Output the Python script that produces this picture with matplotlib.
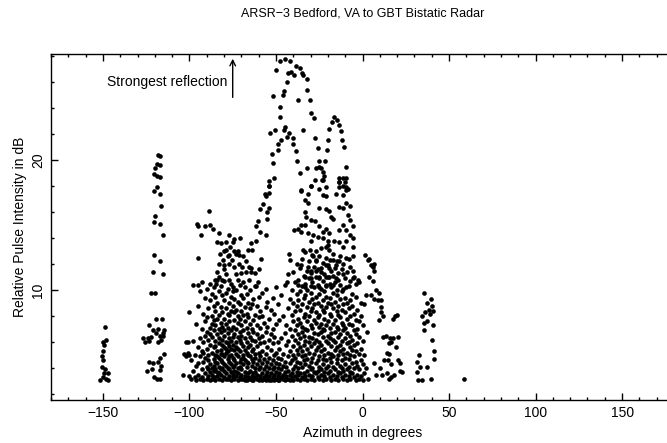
import numpy as np
import matplotlib
matplotlib.use("Agg")
import matplotlib.pyplot as plt
from matplotlib.ticker import MultipleLocator

plt.rcParams['font.family'] = ['Liberation Sans', 'DejaVu Sans']

###
# DATA (azimuth in degrees, relative pulse intensity in dB)
###

# isolated clusters west of the main lobe
west = [(-148.7, 7.2), (-150.1, 6.0), (-148.2, 6.2), (-149.1, 5.8), (-150.1, 5.3),
        (-150.5, 4.9), (-149.7, 4.6), (-150.5, 4.1), (-148.6, 3.9), (-149.1, 3.6),
        (-147.2, 3.6), (-150.1, 3.3), (-148.2, 3.2), (-151.6, 3.1), (-147.2, 3.1),
        (-118.3, 20.4), (-117.3, 20.3), (-118.7, 19.7), (-117.3, 19.6), (-119.7, 19.4),
        (-120.2, 18.9), (-118.7, 18.8), (-117.3, 18.7), (-120.2, 17.6), (-118.9, 17.9),
        (-116.8, 17.4), (-116.4, 16.5), (-119.9, 15.7), (-120.2, 15.2), (-116.8, 15.1),
        (-115.4, 14.2), (-120.2, 12.7), (-116.8, 12.2), (-121.2, 11.4), (-115.0, 11.2),
        (-122.1, 9.8), (-119.8, 9.75), (-119.3, 7.8), (-115.8, 7.8), (-123.1, 7.3),
        (-121.2, 6.9), (-118.3, 7.0), (-114.8, 6.9), (-126.6, 6.3), (-124.1, 6.3),
        (-122.1, 6.4), (-119.3, 6.7), (-117.3, 6.5), (-115.4, 6.7), (-125.4, 6.0),
        (-123.1, 6.1), (-118.1, 6.0), (-116.6, 6.2), (-115.0, 6.5), (-123.1, 4.5),
        (-121.2, 4.4), (-118.3, 4.5), (-117.3, 4.8), (-114.5, 5.1), (-124.7, 3.8),
        (-121.8, 3.9), (-117.3, 3.85), (-116.4, 4.2), (-120.2, 3.3), (-118.9, 3.2),
        (-117.3, 3.2)]

# the two peaks of the main lobe (above ~18 dB)
peak = [(-44.5, 27.8), (-47.4, 27.6), (-41.8, 27.6), (-49.9, 26.9), (-38.7, 27.2),
        (-36.4, 27.1), (-43.2, 26.7), (-41.2, 26.8), (-39.7, 26.5), (-34.9, 26.7),
        (-34.1, 26.5), (-43.8, 26.0), (-32.2, 26.2), (-45.1, 25.3), (-51.6, 24.9),
        (-45.7, 25.0), (-32.2, 25.4), (-37.4, 24.6), (-30.2, 24.6), (-47.6, 24.1),
        (-29.7, 23.6), (-47.4, 23.3), (-28.3, 23.2), (-16.2, 23.3), (-14.9, 23.1),
        (-17.5, 22.9), (-13.7, 22.7), (-44.9, 22.5), (-50.5, 22.3), (-53.4, 22.1),
        (-45.3, 22.3), (-42.2, 22.1), (-43.8, 21.8), (-40.3, 21.7), (-34.5, 22.3),
        (-19.1, 22.4), (-12.3, 22.2), (-47.0, 21.5), (-49.0, 21.2), (-40.3, 21.2),
        (-27.2, 21.7), (-19.7, 21.5), (-11.7, 21.5), (-49.1, 20.8), (-38.3, 20.7),
        (-25.8, 20.9), (-20.6, 20.8), (-10.6, 21.0), (-52.2, 20.5), (-37.7, 19.9),
        (-24.9, 19.9), (-21.4, 19.9), (-51.8, 19.8), (-26.8, 19.4), (-23.9, 19.4),
        (-25.3, 19.5), (-32.2, 19.4), (-9.8, 19.5), (-36.0, 19.0), (-22.9, 19.1),
        (-22.5, 18.8), (-13.3, 18.6), (-11.4, 18.6), (-9.4, 18.6), (-50.9, 18.6),
        (-53.8, 18.4), (-27.7, 18.5), (-23.5, 18.5), (-13.7, 18.3), (-10.4, 18.3),
        (-53.8, 18.0), (-29.7, 18.0), (-21.0, 17.9), (-13.3, 17.9), (-9.4, 17.9),
        (-8.5, 17.8), (-35.4, 17.7)]

# middle band, western half (10 - 18 dB)
mid_w = [(-54.2, 18.0), (-56.6, 17.4), (-53.8, 17.5), (-56.0, 17.2), (-88.8, 16.1),
         (-57.6, 16.6), (-59.5, 16.2), (-54.2, 16.3), (-55.3, 16.0), (-95.2, 14.9),
         (-90.8, 14.9), (-88.4, 15.0), (-86.5, 14.7), (-93.2, 14.2), (-82.7, 14.4),
         (-60.5, 15.3), (-55.3, 15.5), (-61.4, 14.9), (-59.5, 14.5), (-56.0, 14.2),
         (-84.2, 13.7), (-81.7, 13.6), (-77.3, 14.2), (-78.8, 13.7), (-74.9, 13.7),
         (-74.0, 13.9), (-70.7, 14.0), (-64.3, 13.6), (-61.8, 13.8), (-76.5, 13.3),
         (-78.8, 13.1), (-80.2, 13.0), (-74.0, 13.0), (-72.1, 13.0), (-66.3, 13.1),
         (-63.8, 13.1), (-95.0, 12.5), (-82.3, 12.8), (-80.8, 12.3), (-77.8, 12.6),
         (-76.9, 12.7), (-75.3, 12.3), (-73.0, 12.8), (-71.5, 12.7), (-69.2, 12.6),
         (-67.3, 12.2), (-58.6, 12.4), (-83.1, 12.0), (-79.8, 11.9), (-76.9, 12.0),
         (-74.0, 11.8), (-71.5, 12.0), (-69.5, 11.8), (-65.7, 11.8), (-64.3, 11.7),
         (-80.3, 11.6), (-84.2, 11.4), (-82.7, 11.0), (-78.8, 11.2), (-73.0, 11.2),
         (-70.1, 11.3), (-67.3, 11.4), (-64.3, 11.4), (-62.4, 11.3), (-59.9, 11.6),
         (-95.2, 10.4), (-85.5, 10.8), (-84.6, 10.5), (-81.1, 10.8), (-76.9, 10.8),
         (-72.1, 10.8), (-68.8, 10.6), (-65.3, 10.8), (-60.5, 10.6), (-74.9, 10.2),
         (-61.4, 10.3), (-95.8, 15.1)]

# middle band, eastern half (10 - 18 dB)
mid_e = [(-35.4, 17.6), (-31.6, 17.4), (-29.7, 18.0), (-25.2, 17.8), (-22.9, 18.5),
         (-22.9, 17.3), (-21.0, 17.2), (-33.5, 16.9), (-31.6, 16.7), (-24.9, 16.3),
         (-21.0, 16.2), (-33.5, 16.0), (-32.5, 15.6), (-29.7, 15.4), (-27.7, 15.3),
         (-35.4, 15.0), (-39.3, 14.6), (-37.4, 14.7), (-33.5, 15.0), (-31.6, 14.4),
         (-28.7, 14.2), (-24.9, 14.9), (-22.9, 14.5), (-21.0, 14.7), (-35.4, 14.5),
         (-29.7, 13.8), (-25.8, 14.1), (-22.9, 14.0), (-20.1, 13.8), (-42.2, 12.8),
         (-41.8, 12.3), (-34.5, 13.1), (-30.6, 13.1), (-26.8, 13.0), (-23.9, 13.2),
         (-21.0, 13.3), (-28.7, 12.6), (-26.8, 12.2), (-35.4, 11.9), (-31.6, 11.8),
         (-29.7, 11.5), (-26.8, 11.5), (-23.9, 11.7), (-21.0, 11.9), (-33.5, 11.0),
         (-29.7, 10.9), (-24.9, 11.0), (-21.0, 11.0), (-43.9, 10.6), (-37.4, 10.4),
         (-33.5, 10.2), (-29.7, 10.3), (-24.9, 10.2), (-21.0, 10.4),
         (-13.3, 18.3), (-11.4, 18.0), (-9.4, 17.7), (-15.2, 17.4), (-11.4, 17.3),
         (-9.4, 16.7), (-7.5, 16.5), (-13.3, 16.4), (-11.4, 16.3), (-19.1, 16.1),
         (-18.1, 15.6), (-17.2, 15.5), (-8.5, 15.8), (-7.5, 15.4), (-11.4, 15.0),
         (-5.6, 14.9), (-19.1, 14.4), (-13.3, 14.6), (-9.4, 14.6), (-7.5, 14.2),
         (-16.2, 13.8), (-13.3, 13.7), (-9.4, 13.8), (-5.6, 14.0), (-20.0, 13.5),
         (-19.1, 13.1), (-11.4, 13.3), (-5.6, 13.3), (-17.2, 12.3), (-13.3, 12.2),
         (-9.4, 12.5), (-5.6, 12.6), (-19.1, 11.7), (-15.2, 11.9), (-7.5, 11.8),
         (-5.6, 11.5), (-19.1, 11.0), (-15.2, 10.9), (-11.4, 11.2), (-5.6, 10.9),
         (-2.7, 10.8), (-17.2, 10.4), (-9.4, 10.2), (-3.6, 10.5)]

# low, dense part of the main lobe: one azimuth column per degree
low_az = list(range(-104, 3))
low_db = [
    [3.5], [5.1], [6.0, 4.9], [6.0, 5.2],
    [3.4, 5.0, 8.3], [4.6, 3.2], [6.1, 3.8, 10.4], [5.0, 3.3], [4.2, 7.4, 3.1],
    [3.5, 5.6, 8.8, 4.4], [6.3, 3.2, 4.9, 9.9], [3.9, 5.3, 7.0, 3.3, 10.6],
    [4.5, 6.0, 3.1, 8.2, 5.2], [3.6, 7.6, 4.8, 6.5, 9.4], [3.2, 5.5, 4.1, 7.9, 6.8, 10.1],
    [3.4, 4.6, 6.2, 5.0, 8.6, 3.9], [3.1, 4.3, 5.8, 7.1, 3.7, 9.2, 6.6, 10.5],
    [3.5, 4.0, 5.2, 6.4, 8.0, 3.2, 7.4, 9.7], [3.3, 4.7, 5.6, 6.9, 4.2, 8.8, 3.8, 10.2, 7.7],
    [3.1, 3.9, 5.0, 6.1, 7.3, 4.5, 8.4, 5.7, 9.5], [3.4, 4.4, 5.3, 6.6, 3.7, 7.8, 9.0, 4.9, 10.8],
    [3.2, 4.1, 4.8, 5.9, 7.0, 8.1, 6.3, 3.6, 9.9], [3.5, 4.6, 5.4, 6.8, 3.9, 7.5, 8.7, 5.1, 10.3],
    [3.1, 4.0, 5.1, 6.2, 4.5, 7.2, 8.3, 9.6, 5.8], [3.3, 3.8, 4.9, 5.6, 6.5, 7.8, 4.3, 9.2, 10.7, 6.9],
    [3.6, 4.2, 5.2, 6.0, 7.4, 8.6, 3.2, 5.5, 9.8], [3.2, 4.7, 5.9, 6.7, 4.0, 7.1, 8.2, 10.1, 5.3],
    [3.4, 3.9, 4.5, 5.7, 6.3, 7.6, 9.0, 4.9, 8.1], [3.1, 4.3, 5.0, 6.1, 6.9, 3.7, 8.4, 9.5, 5.5, 10.5],
    [3.5, 4.1, 4.8, 5.8, 7.2, 8.8, 6.4, 3.3, 9.9], [3.2, 3.8, 4.6, 5.4, 6.6, 7.7, 4.2, 9.3, 8.3],
    [3.4, 4.4, 5.1, 6.0, 7.0, 3.7, 8.5, 10.0, 5.6], [3.1, 4.0, 4.9, 5.5, 6.4, 7.5, 9.1, 3.6, 8.0],
    [3.3, 4.5, 5.3, 6.2, 7.8, 4.1, 8.9, 10.4, 6.8], [3.5, 3.9, 4.7, 5.9, 6.5, 7.3, 3.2, 9.6, 8.4],
    [3.2, 4.3, 5.0, 5.7, 6.9, 8.1, 4.8, 9.4], [3.4, 3.7, 4.6, 5.4, 6.3, 7.6, 8.7, 10.2, 3.1],
    [3.1, 4.1, 5.2, 6.0, 7.1, 4.5, 8.2, 9.7], [3.6, 3.3, 4.4, 5.6, 6.7, 7.9, 9.0, 5.0],
    [3.2, 3.8, 4.9, 5.8, 6.4, 7.4, 8.6, 10.0], [3.4, 4.2, 5.3, 6.2, 7.0, 4.7, 8.9, 3.1],
    [3.1, 3.6, 4.5, 5.5, 6.8, 7.7, 9.3], [3.3, 4.0, 4.8, 5.1, 6.1, 8.1, 3.7, 10.3],
    [3.5, 3.2, 4.3, 5.7, 6.6, 7.3, 8.8], [3.1, 3.9, 4.6, 5.2, 6.3, 7.9, 9.5],
    [3.4, 3.2, 4.1, 4.9, 5.9, 7.1, 8.4], [3.1, 3.6, 4.4, 5.3, 6.5, 8.0, 9.8],
    [3.3, 3.9, 4.7, 3.2, 6.0, 7.5], [3.5, 3.1, 4.2, 5.1, 6.8, 8.7, 10.1],
    [3.2, 3.7, 4.5, 5.6, 7.2, 9.1], [3.4, 3.1, 4.0, 4.8, 6.2, 7.8],
    [3.1, 3.6, 4.3, 5.4, 6.6, 8.5], [3.3, 3.9, 4.6, 3.2, 5.9, 7.0, 9.4],
    [3.5, 3.1, 4.1, 5.0, 6.4, 8.2], [3.2, 3.7, 4.4, 5.2, 7.4, 10.2],
    [3.4, 3.1, 4.0, 4.8, 6.0, 8.9], [3.1, 3.6, 4.3, 5.5, 7.7],
    [3.3, 3.9, 4.7, 6.3, 9.6], [3.5, 3.2, 4.2, 5.1, 8.0],
    [3.1, 3.7, 4.5, 6.7, 10.4], [3.4, 3.2, 4.1, 5.8, 7.3],
    [3.2, 3.8, 4.9, 6.1, 8.6, 11.2], [3.5, 3.1, 4.4, 5.3, 7.0, 9.3],
    [3.3, 3.6, 4.6, 6.5, 8.1, 10.0], [3.1, 3.9, 5.0, 5.7, 7.6, 9.0, 11.4],
    [3.4, 4.2, 4.8, 6.2, 6.9, 8.4, 10.6], [3.2, 3.7, 4.5, 5.4, 7.3, 8.8, 9.7, 12.0],
    [3.5, 4.0, 5.1, 5.9, 6.6, 7.8, 9.2, 10.8], [3.1, 3.6, 4.4, 5.6, 6.3, 7.5, 8.5, 9.9, 11.7],
    [3.3, 4.1, 4.9, 5.3, 6.8, 7.2, 8.9, 10.3, 12.4], [3.6, 3.2, 4.6, 5.8, 6.5, 7.9, 9.4, 11.1],
    [3.4, 4.3, 5.0, 6.1, 7.0, 8.2, 9.6, 10.5, 12.9], [3.1, 3.8, 4.7, 5.5, 6.9, 7.6, 8.7, 10.0, 11.5],
    [3.5, 4.2, 5.2, 6.0, 6.4, 8.0, 9.1, 10.9, 12.2], [3.2, 3.9, 4.5, 5.7, 7.3, 8.4, 9.8, 11.3],
    [3.4, 4.0, 4.8, 6.3, 7.1, 8.6, 9.3, 10.6, 12.7], [3.1, 3.7, 5.1, 5.9, 6.7, 7.7, 8.9, 10.2, 11.8],
    [3.6, 4.4, 5.4, 6.2, 7.5, 8.3, 9.5, 11.0, 12.3], [3.3, 3.8, 4.6, 5.6, 6.6, 7.9, 9.0, 10.4, 11.6],
    [3.2, 4.1, 4.9, 6.0, 7.2, 8.1, 9.7, 12.6, 10.9], [3.5, 3.9, 5.3, 5.8, 6.8, 7.4, 8.8, 10.1, 11.4],
    [3.1, 4.3, 4.7, 6.4, 7.0, 8.5, 9.2, 10.7, 12.1], [3.4, 3.7, 5.0, 5.5, 6.9, 7.8, 8.3, 9.9, 11.2],
    [3.2, 4.0, 4.6, 6.1, 7.3, 8.7, 9.5, 10.3, 12.5], [3.6, 4.2, 5.2, 5.9, 6.5, 7.6, 9.0, 11.0, 11.9],
    [3.3, 3.8, 4.8, 6.3, 7.1, 8.2, 9.4, 10.5, 12.3], [3.1, 4.5, 5.1, 5.7, 6.7, 8.0, 8.9, 10.2, 11.5],
    [3.5, 4.1, 4.9, 6.2, 7.4, 8.6, 9.8, 11.1, 12.8], [3.2, 3.9, 5.4, 6.0, 6.8, 7.7, 9.1, 10.6, 11.7],
    [3.4, 4.4, 4.7, 5.6, 7.2, 8.4, 9.6, 10.0, 12.2], [3.1, 3.7, 5.0, 6.4, 7.0, 8.1, 8.8, 10.8, 11.3],
    [3.6, 4.2, 5.3, 5.8, 6.6, 7.9, 9.3, 10.4, 12.6], [3.3, 4.0, 4.6, 6.1, 7.5, 8.5, 9.9, 11.6],
    [3.2, 3.8, 5.1, 5.5, 6.9, 7.3, 8.9, 10.1, 12.0], [3.5, 4.3, 4.8, 6.3, 7.1, 8.3, 9.4, 10.9],
    [3.1, 3.9, 5.2, 5.9, 6.7, 7.8, 9.0, 11.4], [3.4, 4.1, 4.7, 6.0, 7.4, 8.6, 10.3, 12.4],
    [3.2, 3.7, 5.0, 5.6, 6.5, 8.0, 9.2, 10.7], [3.6, 4.4, 5.4, 6.2, 7.3, 8.8, 9.7],
    [3.3, 4.0, 4.9, 5.8, 6.9, 8.2, 11.0], [3.1, 4.5, 5.3, 6.6, 7.7, 9.5],
    [3.5, 4.2, 5.9, 7.0, 8.5], [3.2, 3.9, 5.1, 6.4, 7.6, 10.6],
    [3.4, 4.6, 5.5, 8.0, 9.0], [3.1, 4.3, 6.1, 7.3],
    [3.6, 5.0, 8.9], [4.0, 9.6],
]

# scattered returns east of the main lobe
east = [(1.2, 12.7), (3.1, 12.3), (4.0, 12.4), (5.0, 11.9), (6.9, 12.0), (6.0, 11.8),
        (6.9, 11.5), (4.0, 11.0), (6.0, 10.7), (7.9, 10.0), (9.4, 9.8), (5.0, 9.6),
        (6.9, 9.3), (8.9, 9.2), (10.8, 9.2), (10.8, 8.7), (10.8, 8.3), (11.8, 8.0),
        (9.8, 7.7), (17.5, 7.8), (18.5, 8.0), (19.8, 8.1), (11.8, 6.4), (13.7, 6.5),
        (16.0, 6.3), (17.9, 6.3), (20.8, 6.4), (15.6, 5.9), (16.6, 6.0), (19.1, 5.6),
        (14.1, 5.2), (15.6, 5.1), (12.7, 4.6), (14.6, 4.6), (16.6, 4.3), (6.4, 4.4),
        (10.4, 4.0), (20.4, 4.6), (21.9, 4.4), (21.4, 3.8), (22.7, 3.7), (7.9, 3.5),
        (11.2, 3.5), (14.1, 3.6), (18.1, 3.5), (16.6, 3.3), (15.6, 3.2), (3.0, 3.2),
        (2.5, 6.8), (35.4, 9.8), (37.2, 9.0), (39.7, 9.3), (40.3, 8.8), (36.4, 8.3),
        (38.7, 8.5), (39.1, 8.2), (40.6, 8.4), (34.5, 8.0), (35.3, 7.5), (37.2, 7.6),
        (40.6, 7.3), (35.5, 6.9), (40.1, 6.2), (41.6, 5.3), (41.6, 4.7), (32.9, 5.0),
        (31.6, 4.5), (33.5, 4.1), (37.2, 4.1), (31.6, 3.7), (32.0, 3.1), (34.3, 3.1),
        (39.7, 3.2), (58.9, 3.2)]

###
# PLOT
###
def main():
    pts = west + peak + mid_w + mid_e + east
    for a, col in zip(low_az, low_db):
        pts += [(a, d) for d in col]
    az = np.array([p[0] for p in pts])
    db = np.array([p[1] for p in pts])

    fig = plt.figure(figsize=(6.67, 4.43), dpi=100)
    # axes runs past the right edge of the figure, as in the original
    ax = fig.add_axes([51 / 667, 43 / 443, 623 / 667, 346 / 443])

    ax.scatter(az, db, s=11, c='black', marker='o', linewidths=0)

    ax.set_xlim(-180, 180)
    ax.set_ylim(1.55, 28.15)
    ax.xaxis.set_major_locator(MultipleLocator(50))
    ax.xaxis.set_minor_locator(MultipleLocator(10))
    ax.yaxis.set_major_locator(MultipleLocator(10))
    ax.yaxis.set_minor_locator(MultipleLocator(2))
    ax.tick_params(which='both', direction='in', top=True, right=False, width=1, labelsize=10)
    ax.tick_params(which='major', length=5)
    ax.tick_params(which='minor', length=2.5)
    ax.tick_params(axis='x', pad=4)
    ax.tick_params(axis='y', pad=4)
    for lbl in ax.get_yticklabels():
        lbl.set_rotation(90)
        lbl.set_va('center')
    for s in ax.spines.values():
        s.set_linewidth(1)

    ax.set_xlabel("Azimuth in degrees", fontsize=10, labelpad=5)
    ax.set_ylabel("Relative Pulse Intensity in dB", fontsize=10, labelpad=3)
    fig.text(363 / 667, 1 - 14 / 443, "ARSR\u22123 Bedford, VA to GBT Bistatic Radar",
             ha='center', va='center', fontsize=9)

    ax.annotate('', xy=(-75, 28.0), xytext=(-75, 24.6),
                arrowprops=dict(arrowstyle='->', lw=1, color='black'))
    ax.text(-78, 26.0, "Strongest reflection", ha='right', va='center', fontsize=10)

    fig.savefig("out.png", dpi=100)

if __name__ == "__main__":
    main()
